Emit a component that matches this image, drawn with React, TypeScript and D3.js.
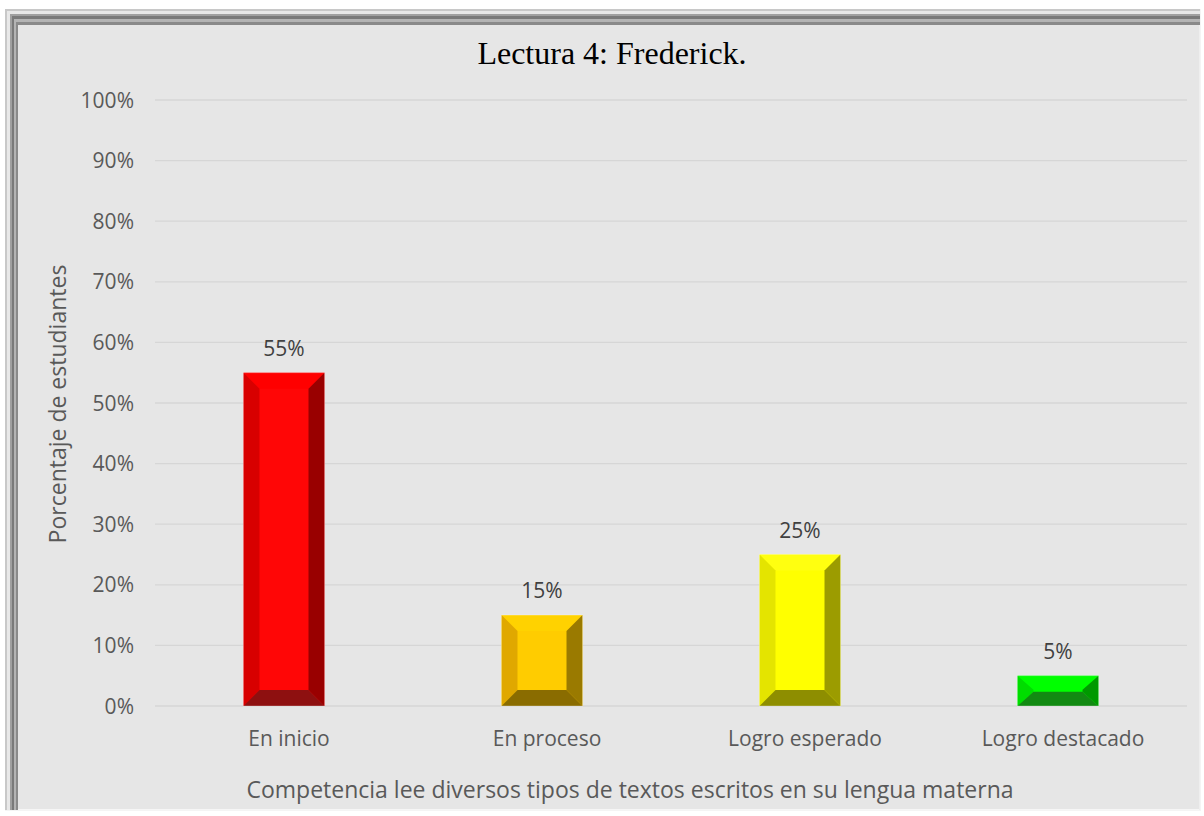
import * as d3 from "d3";

const categories = ["En inicio", "En proceso", "Logro esperado", "Logro destacado"];
const values = [55, 15, 25, 5];
const yTicks = [0, 10, 20, 30, 40, 50, 60, 70, 80, 90, 100];

// face, top, left, right, bottom bevel colours per bar
const barColors = [
  { face: "#ff0606", top: "#ff0000", left: "#d80000", right: "#990000", bottom: "#8e1010" },
  { face: "#ffcc00", top: "#ffd200", left: "#e0a800", right: "#9a7a00", bottom: "#8a6c00" },
  { face: "#ffff00", top: "#ffff10", left: "#e4e400", right: "#9c9c00", bottom: "#8e8e00" },
  { face: "#00ff00", top: "#00ff00", left: "#00dd00", right: "#009900", bottom: "#128a12" },
];

const WIDTH = 1204;
const HEIGHT = 816;
const PLOT = { left: 155, right: 1187, top: 100, bottom: 706 };
const BEVEL = 16;
const SANS = "'Open Sans', 'DejaVu Sans', sans-serif";

export default function App() {
  const x = d3
    .scaleBand<string>()
    .domain(categories)
    .range([PLOT.left, PLOT.right])
    .paddingInner(0.686)
    .paddingOuter(0.343);
  const y = d3.scaleLinear().domain([0, 100]).range([PLOT.bottom, PLOT.top]);

  const bars = values.map((v, i) => {
    const x0 = x(categories[i])!;
    const w = x.bandwidth();
    const x1 = x0 + w;
    const y0 = y(v);
    const y1 = y(0);
    const h = y1 - y0;
    const b = Math.min(BEVEL, h / 2 - 1);
    const bx = BEVEL;
    const c = barColors[i];
    const pts = (arr: number[][]) => arr.map((p) => p.join(",")).join(" ");
    return (
      <g key={categories[i]}>
        <rect x={x0} y={y0} width={w} height={h} fill={c.face} />
        <polygon points={pts([[x0, y0], [x1, y0], [x1 - bx, y0 + b], [x0 + bx, y0 + b]])} fill={c.top} />
        <polygon points={pts([[x0, y0], [x0 + bx, y0 + b], [x0 + bx, y1 - b], [x0, y1]])} fill={c.left} />
        <polygon points={pts([[x1, y0], [x1, y1], [x1 - bx, y1 - b], [x1 - bx, y0 + b]])} fill={c.right} />
        <polygon points={pts([[x0, y1], [x0 + bx, y1 - b], [x1 - bx, y1 - b], [x1, y1]])} fill={c.bottom} />
        <rect x={x0} y={y0} width={w} height={h} fill="none" stroke="rgba(255,255,255,0.35)" strokeWidth={0.8} />
        <text
          x={x0 + w / 2}
          y={y0 - 17}
          textAnchor="middle"
          fontFamily={SANS}
          fontSize={21}
          fill="#404040"
        >
          {v}%
        </text>
      </g>
    );
  });

  return (
    <svg width={WIDTH} height={HEIGHT} style={{ position: "absolute", left: 0, top: 0 }}>
      <rect width={WIDTH} height={HEIGHT} fill="#ffffff" />
      {/* frame */}
      <rect x={5} y={9} width={1196} height={802} fill="#f4f4f4" />
      <rect x={5} y={9} width={1195} height={801} fill="#c8c8c8" />
      <rect x={7} y={11} width={1193} height={799} fill="#e8e8e8" />
      <rect x={10} y={14} width={1190} height={796} fill="#a0a0a0" />
      <rect x={12} y={16} width={1188} height={794} fill="#7a7a7a" />
      <rect x={14} y={19} width={1186} height={791} fill="#b4b4b4" />
      <rect x={16} y={22} width={1184} height={788} fill="#8a8a8a" />
      <rect x={18} y={25} width={1182} height={785} fill="#e6e6e6" />
      <line x1={18} x2={1200} y1={809.5} y2={809.5} stroke="#f6f6f6" />
      <line x1={1199.5} x2={1199.5} y1={25} y2={810} stroke="#efefef" />

      <text x={612} y={64} textAnchor="middle" fontFamily="'Liberation Serif', 'Times New Roman', serif" fontSize={32} fill="#000">
        Lectura 4: Frederick.
      </text>

      {yTicks.map((t) => (
        <g key={t}>
          <line x1={PLOT.left} x2={PLOT.right} y1={y(t)} y2={y(t)} stroke="#d6d6d6" strokeWidth={1.3} />
          <text x={134} y={y(t)} dy="0.36em" textAnchor="end" fontFamily={SANS} fontSize={21} fill="#595959">
            {t}%
          </text>
        </g>
      ))}

      {bars}

      {categories.map((c) => (
        <text
          key={c}
          x={x(c)! + x.bandwidth() / 2 + 5}
          y={746}
          textAnchor="middle"
          fontFamily={SANS}
          fontSize={21}
          fill="#595959"
        >
          {c}
        </text>
      ))}

      <text x={630} y={798} textAnchor="middle" fontFamily={SANS} fontSize={23} fill="#595959">
        Competencia lee diversos tipos de textos escritos en su lengua materna
      </text>
      <text
        transform={`translate(66, 404) rotate(-90)`}
        textAnchor="middle"
        fontFamily={SANS}
        fontSize={23}
        fill="#595959"
      >
        Porcentaje de estudiantes
      </text>
    </svg>
  );
}
